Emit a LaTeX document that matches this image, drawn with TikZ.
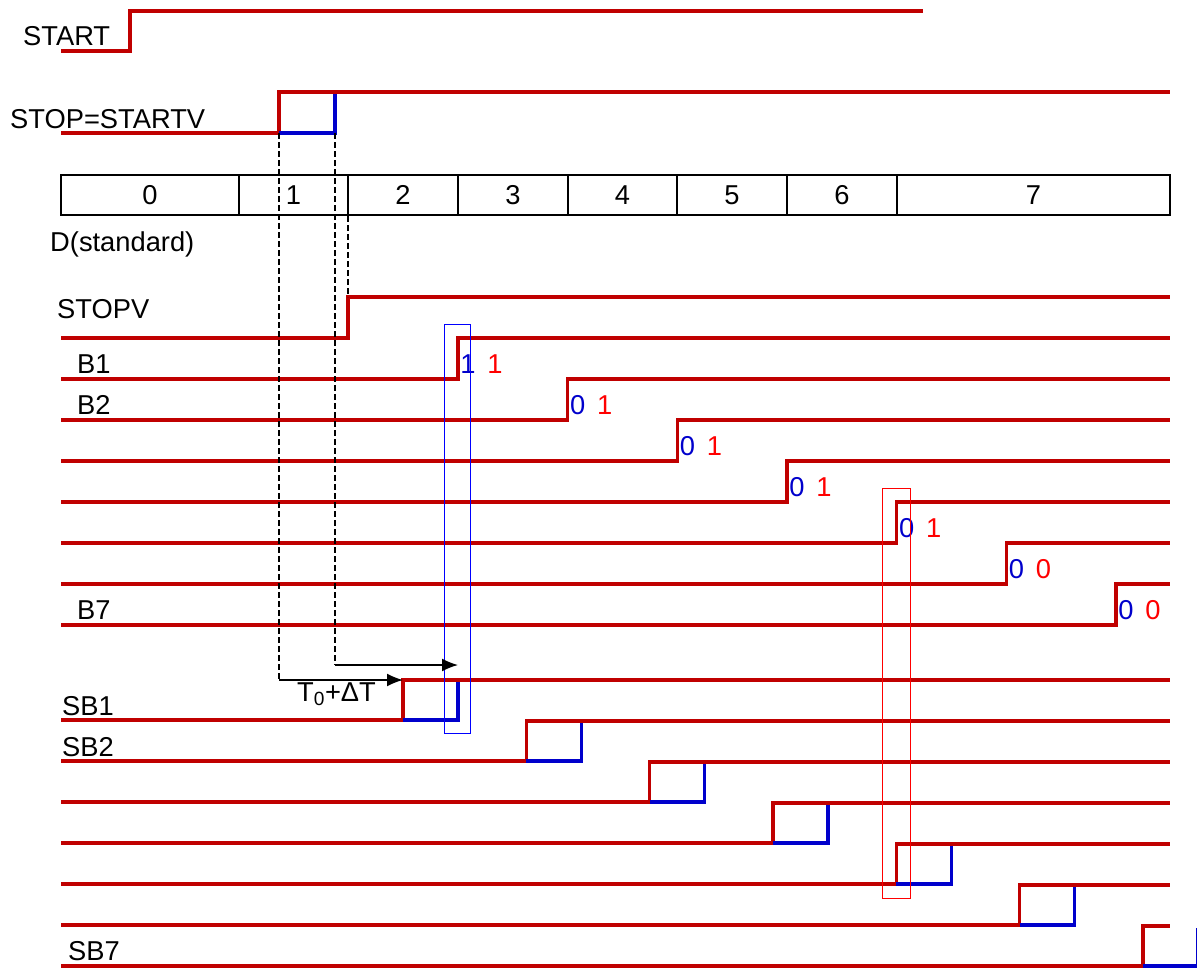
\documentclass[tikz,border=0pt]{standalone}
\usepackage{fontspec}
\setmainfont{Liberation Sans}
\usetikzlibrary{arrows.meta}
\definecolor{sigred}{HTML}{C00000}
\definecolor{sigblue}{HTML}{0000CC}
\definecolor{digred}{HTML}{FF0000}
\definecolor{digblue}{HTML}{0000CC}
\tikzset{
  sig/.style={draw=sigred,line width=3.3pt,line join=miter},
  sigb/.style={draw=sigblue,line width=3.3pt,line join=miter},
  lbl/.style={anchor=base west,inner sep=0pt,font=\fontsize{27.3}{31}\selectfont},
  dig/.style={anchor=base,inner sep=0pt,font=\fontsize{27.3}{31}\selectfont},
  cell/.style={anchor=center,inner sep=0pt,font=\fontsize{27.3}{31}\selectfont},
  tbl/.style={draw=black,line width=1.6pt},
  guide/.style={draw=black,line width=1.3pt,dash pattern=on 6pt off 3pt},
  tarrow/.style={draw=black,line width=1.6pt,-{Latex[length=16pt,width=13pt]}},
  hbox/.style={line width=1pt}
}
\begin{document}
\begin{tikzpicture}[x=1pt,y=-1pt]
\useasboundingbox (0,0) rectangle (1197,967);
% START
\node[lbl] (lstart) at (23,45) {START};
\draw[sig] (61,51) -- (130,51) -- (130,11) -- (923,11);
% STOP=STARTV
\node[lbl] (lstop) at (10,128) {STOP=STARTV};
\draw[sig] (61,133) -- (279,133) -- (279,92) -- (1170,92);
\draw[sigb] (279,133) -- (335,133) -- (335,93.5);
% table
\draw[tbl] (61,175) rectangle (1170,215);
\foreach \x in {239,348,458,568,677,787,897}{\draw[tbl] (\x,175) -- (\x,215);}
\foreach \n/\c in {0/150,1/293.5,2/403,3/513,4/622.5,5/732,6/842,7/1033.5}{
  \node[cell] (cell\n) at (\c,195) {\n};}
\node[lbl] (ldstd) at (50,251) {D(standard)};
% STOPV
\node[lbl] (lstopv) at (57,318) {STOPV};
\draw[sig] (61,338) -- (348,338) -- (348,297) -- (1170,297);
% B rows
\foreach \i/\bv/\rv in {1/1/1,2/0/1,3/0/1,4/0/1,5/0/1,6/0/0,7/0/0}{
  \pgfmathsetmacro{\L}{338+41*\i}
  \pgfmathsetmacro{\X}{458+109.67*(\i-1)}
  \draw[sig] (61,\L) -- (\X,\L) -- (\X,\L-41) -- (1170,\L-41);
  \node[dig,text=digblue] (bb\i) at (\X+10,\L-6) {\bv};
  \node[dig,text=digred] (br\i) at (\X+37,\L-6) {\rv};
}
\node[lbl] (lb1) at (77,373) {B1};
\node[lbl] (lb2) at (77,414) {B2};
\node[lbl] (lb7) at (77,619) {B7};
% SB rows
\foreach \i in {1,...,7}{
  \pgfmathsetmacro{\L}{720+41*(\i-1)}
  \pgfmathsetmacro{\X}{403+123.33*(\i-1)}
  \draw[sig] (61,\L) -- (\X,\L) -- (\X,\L-40) -- (1170,\L-40);
  \draw[sigb] (\X,\L) -- (\X+55,\L) -- (\X+55,\L-38.5);
}
\node[lbl] (lsb1) at (62,715) {SB1};
\node[lbl] (lsb2) at (62,756) {SB2};
\node[lbl] (lsb7) at (68,960) {SB7};
% highlight boxes
\draw[hbox,draw=blue] (444,324) rectangle (470,733);
\draw[hbox,draw=red] (882,488) rectangle (910,898);
% guides and arrows
\coordinate (ga) at (279,133);
\coordinate (gb) at (335,133);
\coordinate (gc) at (348,216);
\coordinate (gc2) at (348,297);
\coordinate (aa) at (279,680);
\coordinate (ab) at (335,665);
\coordinate (ta) at (403,680);
\coordinate (tb) at (458,665);
\draw[guide] (ga) -- (aa);
\draw[guide] (gb) -- (ab);
\draw[guide] (gc) -- (gc2);
\draw[tarrow] (aa) -- (ta);
\draw[tarrow] (ab) -- (tb);
\node[lbl] (lt) at (297,701) {T\textsubscript{0}+ΔT};
\end{tikzpicture}
\end{document}
